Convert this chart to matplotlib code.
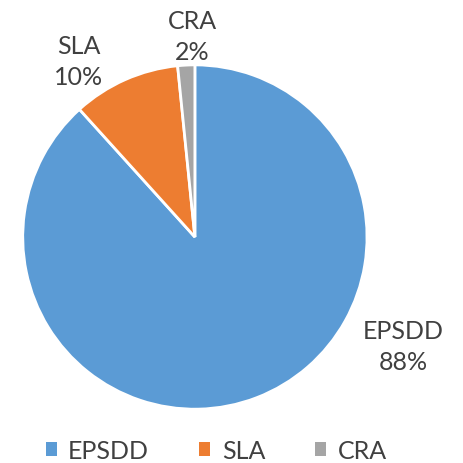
import matplotlib
matplotlib.use("Agg")
import matplotlib.pyplot as plt
from matplotlib.patches import Patch

categories = ["EPSDD", "SLA", "CRA"]
values = [88.3, 10.1, 1.6]
colors = ["#5B9BD5", "#ED7D31", "#A5A5A5"]

plt.rcParams['font.family'] = ['Lato', 'DejaVu Sans']
text_color = "#404040"
fs = 18

fig = plt.figure(figsize=(4.64, 4.64), dpi=100)
ax = fig.add_axes([0.049, 0.116, 0.742, 0.742])
wedges, _ = ax.pie(values, colors=colors, startangle=90, counterclock=False,
                   radius=1.0, wedgeprops=dict(edgecolor="white", linewidth=2))
ax.set_xlim(-1, 1)
ax.set_ylim(-1, 1)
ax.set_aspect("equal")
ax.axis("off")

total = sum(values)
label_pos = [(1.21, -0.635), (-0.674, 1.023), (-0.017, 1.169)]
for cat, v, (x, y) in zip(categories, values, label_pos):
    ax.text(x, y, f"{cat}\n{round(v / total * 100):.0f}%", ha="center", va="center",
            fontsize=fs, color=text_color, linespacing=1.42, clip_on=False)

handles = [Patch(facecolor=c, edgecolor="none") for c in colors]
fig.legend(handles, categories, loc="center", bbox_to_anchor=(0.466, 0.027), ncol=3,
           frameon=False, fontsize=fs, handlelength=0.45, handleheight=0.45,
           handletextpad=0.45, columnspacing=2.0, labelcolor=text_color)

fig.savefig("out.png", dpi=100)
